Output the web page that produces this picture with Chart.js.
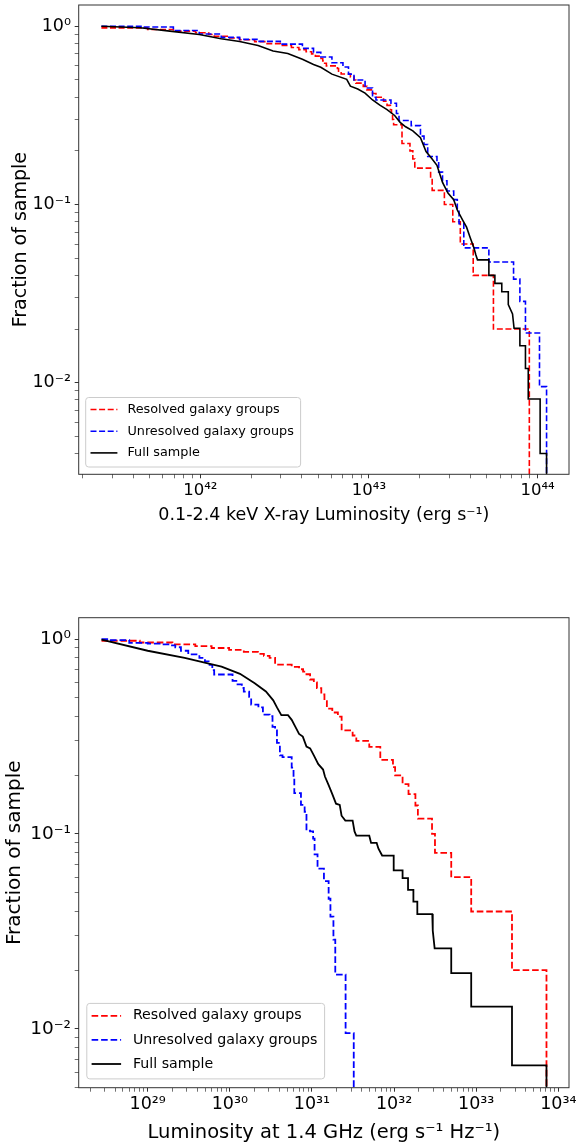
<!DOCTYPE html>
<html>
<head>
<meta charset="utf-8">
<script src="https://cdn.jsdelivr.net/npm/chart.js@4.4.0/dist/chart.umd.min.js"></script>
<style>
  html, body { margin: 0; padding: 0; background: #fff; }
  body { width: 579px; height: 1146px; position: relative; overflow: hidden; }
  .panel { position: absolute; left: 0; width: 579px; }
  #xray-panel { top: 0; height: 545px; }
  #radio-panel { top: 590px; height: 556px; }
</style>
</head>
<body>
<div class="panel" id="xray-panel"><canvas id="xray"></canvas></div>
<div class="panel" id="radio-panel"><canvas id="radio"></canvas></div>
<script>
const FONT = 'DejaVu Sans';

// ---- top panel: 0.1-2.4 keV X-ray luminosity (erg/s) vs fraction of sample ----
const xrayResolvedL = [2.59e41, 4.87e41, 6.92e41, 9.37e41, 1.12e42, 1.21e42, 1.47e42, 1.71e42, 2.10e42, 2.44e42,
  2.98e42, 3.47e42, 3.84e42, 4.24e42, 4.57e42, 4.81e42, 5.06e42, 5.32e42, 5.46e42, 5.59e42,
  6.50e42, 6.60e42, 6.84e42, 7.76e42, 8.15e42, 8.36e42, 9.25e42, 9.72e42, 1.05e43, 1.10e43,
  1.22e43, 1.28e43, 1.34e43, 1.36e43, 1.38e43, 1.40e43, 1.57e43, 1.75e43, 1.82e43, 1.87e43,
  2.32e43, 2.37e43, 2.80e43, 3.14e43, 3.48e43, 4.15e43, 5.47e43, 8.93e43];
const xrayResolvedF = [0.98, 0.96, 0.94, 0.92, 0.90, 0.88, 0.86, 0.84, 0.82, 0.80,
  0.78, 0.76, 0.74, 0.72, 0.70, 0.68, 0.66, 0.64, 0.62, 0.60,
  0.58, 0.56, 0.54, 0.52, 0.50, 0.48, 0.46, 0.44, 0.42, 0.40,
  0.38, 0.36, 0.34, 0.32, 0.30, 0.28, 0.22, 0.20, 0.18, 0.16,
  0.14, 0.12, 0.10, 0.08, 0.06, 0.04, 0.02, 0.001];

const xrayUnresolvedL = [2.59e41, 4.63e41, 6.92e41, 9.85e41, 1.33e42, 1.71e42, 2.20e42, 2.98e42, 4.03e42, 4.69e42,
  5.18e42, 6.03e42, 7.01e42, 7.56e42, 8.15e42, 9.48e42, 1.05e43, 1.10e43, 1.35e43, 1.455e43,
  1.507e43, 1.78e43, 2.02e43, 2.12e43, 2.23e43, 2.53e43, 2.59e43, 2.73e43, 2.90e43, 3.18e43,
  3.34e43, 3.42e43, 3.65e43, 5.14e43, 7.2e43, 7.85e43, 8.47e43, 1.026e44, 1.13e44];
const xrayUnresolvedF = [1.0, 0.991, 0.948, 0.906, 0.867, 0.845, 0.823, 0.794, 0.752, 0.714,
  0.673, 0.624, 0.591, 0.539, 0.500, 0.451, 0.400, 0.386, 0.370, 0.324,
  0.296, 0.277, 0.242, 0.217, 0.186, 0.174, 0.152, 0.136, 0.119, 0.1065,
  0.0931, 0.078, 0.0571, 0.0476, 0.0381, 0.0286, 0.0190, 0.0095, 0.001];

const xrayFullL = [2.59e41, 4.40e41, 6.59e41, 9.85e41, 1.33e42, 1.71e42, 2.20e42, 2.70e42, 3.30e42, 4.03e42,
  4.69e42, 5.18e42, 6.03e42, 7.38e42, 7.76e42, 8.58e42, 9.48e42, 1.05e43, 1.16e43, 1.28e43,
  1.42e43, 1.53e43, 1.65e43, 1.82e43, 2.02e43, 2.18e43, 2.35e43, 2.53e43, 2.73e43, 2.94e43,
  3.18e43, 3.34e43, 3.60e43, 3.79e43, 3.98e43, 4.19e43, 4.30e43, 4.40e43, 5.14e43, 5.14e43,
  5.58e43, 5.58e43, 6.13e43, 6.13e43, 6.70e43, 6.70e43, 7.10e43, 7.25e43, 7.85e43, 7.85e43,
  8.47e43, 8.47e43, 8.80e43, 8.80e43, 1.035e44, 1.035e44, 1.13e44, 1.13e44];
const xrayFullF = [1.0, 0.982, 0.940, 0.899, 0.852, 0.822, 0.780, 0.726, 0.704, 0.653,
  0.611, 0.589, 0.539, 0.504, 0.461, 0.445, 0.422, 0.386, 0.361, 0.341,
  0.316, 0.289, 0.273, 0.259, 0.237, 0.198, 0.1815, 0.166, 0.133, 0.116,
  0.1064, 0.0931, 0.0815, 0.0746, 0.0653, 0.0571, 0.0523, 0.0489, 0.0489, 0.0400,
  0.0400, 0.0361, 0.0361, 0.0324, 0.0324, 0.0274, 0.0243, 0.0202, 0.0202, 0.0161,
  0.0161, 0.0120, 0.0120, 0.0081, 0.0081, 0.0040, 0.0040, 0.001];

const xrayTickVals = [1e42, 1e43, 1e44];
const xrayTickLabels = ['10⁴²', '10⁴³', '10⁴⁴'];

// ---- bottom panel: 1.4 GHz luminosity (erg/s/Hz) vs fraction of sample ----
const radioResolvedL = [2.74e28, 8.0e28, 2.0e29, 3.8e29, 6.0e29, 9.8e29, 1.48e30, 2.2e30, 2.6e30, 3.05e30,
  3.56e30, 5.67e30, 6.97e30, 7.8e30, 8.58e30, 9.5e30, 1.055e31, 1.15e31, 1.30e31, 1.42e31,
  1.52e31, 1.77e31, 2.07e31, 2.30e31, 3.13e31, 3.47e31, 4.99e31, 6.80e31, 9.7e31, 1.03e32,
  1.27e32, 1.50e32, 1.82e32, 1.95e32, 2.90e32, 3.15e32, 4.97e32, 8.7e32, 2.73e33, 7.18e33];
const radioResolvedF = [0.98, 0.96, 0.94, 0.92, 0.90, 0.88, 0.86, 0.84, 0.82, 0.80,
  0.74, 0.72, 0.70, 0.68, 0.66, 0.62, 0.60, 0.56, 0.52, 0.48,
  0.44, 0.42, 0.40, 0.34, 0.32, 0.30, 0.28, 0.24, 0.22, 0.20,
  0.18, 0.16, 0.14, 0.12, 0.10, 0.08, 0.06, 0.04, 0.02, 0.001];

const radioUnresolvedL = [2.74e28, 3.55e28, 5.96e28, 1.0e29, 1.51e29, 1.86e29, 2.17e29, 2.54e29, 3.12e29, 4.26e29,
  4.98e29, 5.52e29, 6.12e29, 6.45e29, 1.08e30, 1.2e30, 1.40e30, 1.48e30, 1.72e30, 1.82e30,
  2.23e30, 2.53e30, 3.05e30, 3.31e30, 3.56e30, 3.75e30, 4.07e30, 4.38e30, 5.67e30, 5.97e30,
  6.10e30, 7.35e30, 8.15e30, 8.58e30, 9.51e30, 1.034e31, 1.077e31, 1.17e31, 1.40e31, 1.597e31,
  1.68e31, 1.827e31, 1.924e31, 2.57e31, 3.23e31];
const radioUnresolvedF = [1.0, 0.988, 0.955, 0.947, 0.939, 0.927, 0.908, 0.871, 0.835, 0.801,
  0.768, 0.737, 0.692, 0.658, 0.610, 0.585, 0.561, 0.538, 0.505, 0.461,
  0.446, 0.410, 0.402, 0.354, 0.340, 0.293, 0.253, 0.248, 0.219, 0.193,
  0.162, 0.141, 0.130, 0.104, 0.103, 0.0947, 0.0785, 0.0664, 0.0573, 0.0465,
  0.0377, 0.0287, 0.0190, 0.0095, 0.001];

const radioFullL = [2.74e28, 1.0e29, 2.82e29, 5.24e29, 7.93e29, 1.33e30, 2.01e30, 2.75e30, 3.38e30, 3.75e30,
  4.24e30, 5.11e30, 5.67e30, 6.29e30, 6.97e30, 7.74e30, 8.58e30, 9.51e30, 1.055e31, 1.195e31,
  1.367e31, 1.44e31, 1.597e31, 1.77e31, 1.964e31, 2.18e31, 2.295e31, 2.55e31, 3.13e31, 3.30e31,
  3.47e31, 4.99e31, 5.25e31, 6.14e31, 6.46e31, 7.16e31, 9.9e31, 9.9e31, 1.27e32, 1.27e32,
  1.48e32, 1.48e32, 1.72e32, 1.72e32, 1.92e32, 1.92e32, 2.92e32, 2.96e32, 3.12e32, 4.97e32,
  4.97e32, 8.7e32, 8.7e32, 2.73e33, 2.73e33, 7.18e33, 7.18e33];
const radioFullF = [0.992, 0.871, 0.801, 0.752, 0.722, 0.663, 0.593, 0.538, 0.485, 0.446,
  0.407, 0.407, 0.385, 0.354, 0.326, 0.316, 0.281, 0.275, 0.253, 0.228,
  0.214, 0.197, 0.178, 0.160, 0.143, 0.141, 0.124, 0.117, 0.117, 0.103,
  0.098, 0.098, 0.090, 0.090, 0.084, 0.0775, 0.0775, 0.065, 0.065, 0.0593,
  0.0593, 0.0516, 0.0516, 0.045, 0.045, 0.0388, 0.0388, 0.0319, 0.0259, 0.0259,
  0.0193, 0.0193, 0.0130, 0.0130, 0.0065, 0.0065, 0.001];

const radioTickVals = [1e29, 1e30, 1e31, 1e32, 1e33, 1e34];
const radioTickLabels = ['10²⁹', '10³⁰', '10³¹', '10³²', '10³³', '10³⁴'];

const fracTickVals = [1e-2, 1e-1, 1];
const fracTickLabels = ['10⁻²', '10⁻¹', '10⁰'];

const seriesNames = ['Resolved galaxy groups', 'Unresolved galaxy groups', 'Full sample'];

function toPoints(xs, ys) {
  return xs.map((x, i) => ({ x: x, y: ys[i] }));
}

// decade + 2..9 tick positions inside the axis range (like matplotlib log axes)
function logTicks(min, max) {
  const ticks = [];
  for (let e = Math.floor(Math.log10(min)); e <= Math.ceil(Math.log10(max)); e++) {
    for (let m = 1; m <= 9; m++) {
      const v = m * Math.pow(10, e);
      if (v >= min && v <= max) ticks.push({ value: v, major: m === 1 });
    }
  }
  return ticks;
}

function labelFor(vals, labels) {
  return (value) => {
    const i = vals.findIndex(v => Math.abs(v / value - 1) < 1e-6);
    return i < 0 ? '' : labels[i];
  };
}

const framePlugin = {
  id: 'frame',
  afterDatasetsDraw(chart) {
    const { ctx, chartArea: a } = chart;
    ctx.save();
    ctx.strokeStyle = '#333';
    ctx.lineWidth = 1;
    ctx.strokeRect(a.left, a.top, a.right - a.left, a.bottom - a.top);
    ctx.restore();
  }
};

// matplotlib style legend box (lower left, inside the axes)
const boxLegendPlugin = {
  id: 'boxLegend',
  afterDraw(chart, args, opts) {
    const ctx = chart.ctx;
    const [x0, y0, x1, y1] = opts.box;
    const r = 3;
    ctx.save();
    ctx.beginPath();
    ctx.moveTo(x0 + r, y0);
    ctx.lineTo(x1 - r, y0);
    ctx.arcTo(x1, y0, x1, y0 + r, r);
    ctx.lineTo(x1, y1 - r);
    ctx.arcTo(x1, y1, x1 - r, y1, r);
    ctx.lineTo(x0 + r, y1);
    ctx.arcTo(x0, y1, x0, y1 - r, r);
    ctx.lineTo(x0, y0 + r);
    ctx.arcTo(x0, y0, x0 + r, y0, r);
    ctx.closePath();
    ctx.fillStyle = 'rgba(255,255,255,0.8)';
    ctx.fill();
    ctx.strokeStyle = '#cccccc';
    ctx.lineWidth = 1;
    ctx.stroke();

    chart.data.datasets.forEach((ds, i) => {
      const y = opts.rows[i];
      ctx.beginPath();
      ctx.setLineDash(ds.borderDash || []);
      ctx.strokeStyle = ds.borderColor;
      ctx.lineWidth = ds.borderWidth;
      ctx.moveTo(opts.lineX[0], y);
      ctx.lineTo(opts.lineX[1], y);
      ctx.stroke();
      ctx.setLineDash([]);
      ctx.fillStyle = '#000';
      ctx.font = opts.fontSize + 'px "' + FONT + '"';
      ctx.textBaseline = 'middle';
      ctx.textAlign = 'left';
      ctx.fillText(ds.label, opts.textX, y);
    });
    ctx.restore();
  }
};

function makeChart(canvasId, p) {
  const datasets = [
    { label: seriesNames[0], data: toPoints(p.res[0], p.res[1]), borderColor: '#ff0000',
      borderWidth: p.lw, borderDash: p.dash, stepped: 'before', order: 2 },
    { label: seriesNames[1], data: toPoints(p.unres[0], p.unres[1]), borderColor: '#0000ff',
      borderWidth: p.lw, borderDash: p.dash, stepped: 'before', order: 1 },
    { label: seriesNames[2], data: toPoints(p.full[0], p.full[1]), borderColor: '#000000',
      borderWidth: p.lw, order: 0 }
  ];

  const axisGrid = {
    display: true,
    drawOnChartArea: false,
    drawTicks: true,
    tickLength: 4,
    tickColor: '#333',
    tickWidth: (ctx) => (ctx.tick && ctx.tick.major ? 1 : 0.7)
  };

  return new Chart(document.getElementById(canvasId), {
    type: 'line',
    data: { datasets: datasets },
    options: {
      responsive: true,
      maintainAspectRatio: false,
      animation: false,
      events: [],
      layout: { padding: p.padding },
      elements: { point: { radius: 0 }, line: { tension: 0, fill: false } },
      plugins: {
        legend: { display: false },
        tooltip: { enabled: false },
        boxLegend: p.legend
      },
      scales: {
        x: {
          type: 'logarithmic',
          min: p.xMin,
          max: p.xMax,
          bounds: 'data',
          afterBuildTicks: (s) => { s.ticks = logTicks(s.min, s.max); },
          afterFit: (s) => { s.height = p.xAxisH; s.paddingLeft = 0; s.paddingRight = 0; },
          grid: axisGrid,
          border: { display: false },
          ticks: {
            autoSkip: false, maxRotation: 0, minRotation: 0, padding: p.xTickPad, color: '#000',
            font: { family: FONT, size: p.xTickSize },
            callback: labelFor(p.xTickVals, p.xTickLabels)
          },
          title: {
            display: true, text: p.xTitle, color: '#000', padding: 0,
            font: { family: FONT, size: p.xTitleSize, lineHeight: 1.2 }
          }
        },
        y: {
          type: 'logarithmic',
          min: p.yMin,
          max: p.yMax,
          bounds: 'data',
          afterBuildTicks: (s) => { s.ticks = logTicks(s.min, s.max); },
          afterFit: (s) => { s.width = p.yAxisW; s.paddingTop = 0; s.paddingBottom = 0; },
          grid: axisGrid,
          border: { display: false },
          ticks: {
            autoSkip: false, padding: 3.7, color: '#000',
            font: { family: FONT, size: p.yTickSize },
            callback: labelFor(fracTickVals, fracTickLabels)
          },
          title: {
            display: true, text: 'Fraction of sample', color: '#000', padding: 0,
            font: { family: FONT, size: p.yTitleSize, lineHeight: 1.2 }
          }
        }
      }
    },
    plugins: [framePlugin, boxLegendPlugin]
  });
}

makeChart('xray', {
  res: [xrayResolvedL, xrayResolvedF],
  unres: [xrayUnresolvedL, xrayUnresolvedF],
  full: [xrayFullL, xrayFullF],
  lw: 1.6, dash: [6, 2.6],
  xMin: 1.90e41, xMax: 1.535e44, yMin: 3.06e-3, yMax: 1.317,
  padding: { left: 9.6, top: 5, right: 10, bottom: 18.9 },
  xAxisH: 51.8, yAxisW: 69.1,
  xTickVals: xrayTickVals, xTickLabels: xrayTickLabels,
  xTickSize: 16.5, xTickPad: 2.4, yTickSize: 17.5,
  xTitle: '0.1-2.4 keV X-ray Luminosity (erg s⁻¹)', xTitleSize: 17.5, yTitleSize: 19,
  legend: { box: [85.7, 397.5, 300.6, 467], rows: [409.5, 431.2, 452.9],
    lineX: [90.5, 117.4], textX: 127.4, fontSize: 12.8 }
});

makeChart('radio', {
  res: [radioResolvedL, radioResolvedF],
  unres: [radioUnresolvedL, radioUnresolvedF],
  full: [radioFullL, radioFullF],
  lw: 1.8, dash: [6.6, 2.9],
  xMin: 1.445e28, xMax: 1.35e34, yMin: 4.99e-3, yMax: 1.287,
  padding: { left: 3, top: 27.7, right: 10, bottom: 1.75 },
  xAxisH: 56.55, yAxisW: 75.7,
  xTickVals: radioTickVals, xTickLabels: radioTickLabels,
  xTickSize: 17.5, xTickPad: 2.4, yTickSize: 18.5,
  xTitle: 'Luminosity at 1.4 GHz (erg s⁻¹ Hz⁻¹)', xTitleSize: 19.5, yTitleSize: 20,
  legend: { box: [86.8, 413.4, 324.6, 488.9], rows: [425.8, 449.9, 474],
    lineX: [91.6, 121.1], textX: 132.9, fontSize: 14.2 }
});
</script>
</body>
</html>
